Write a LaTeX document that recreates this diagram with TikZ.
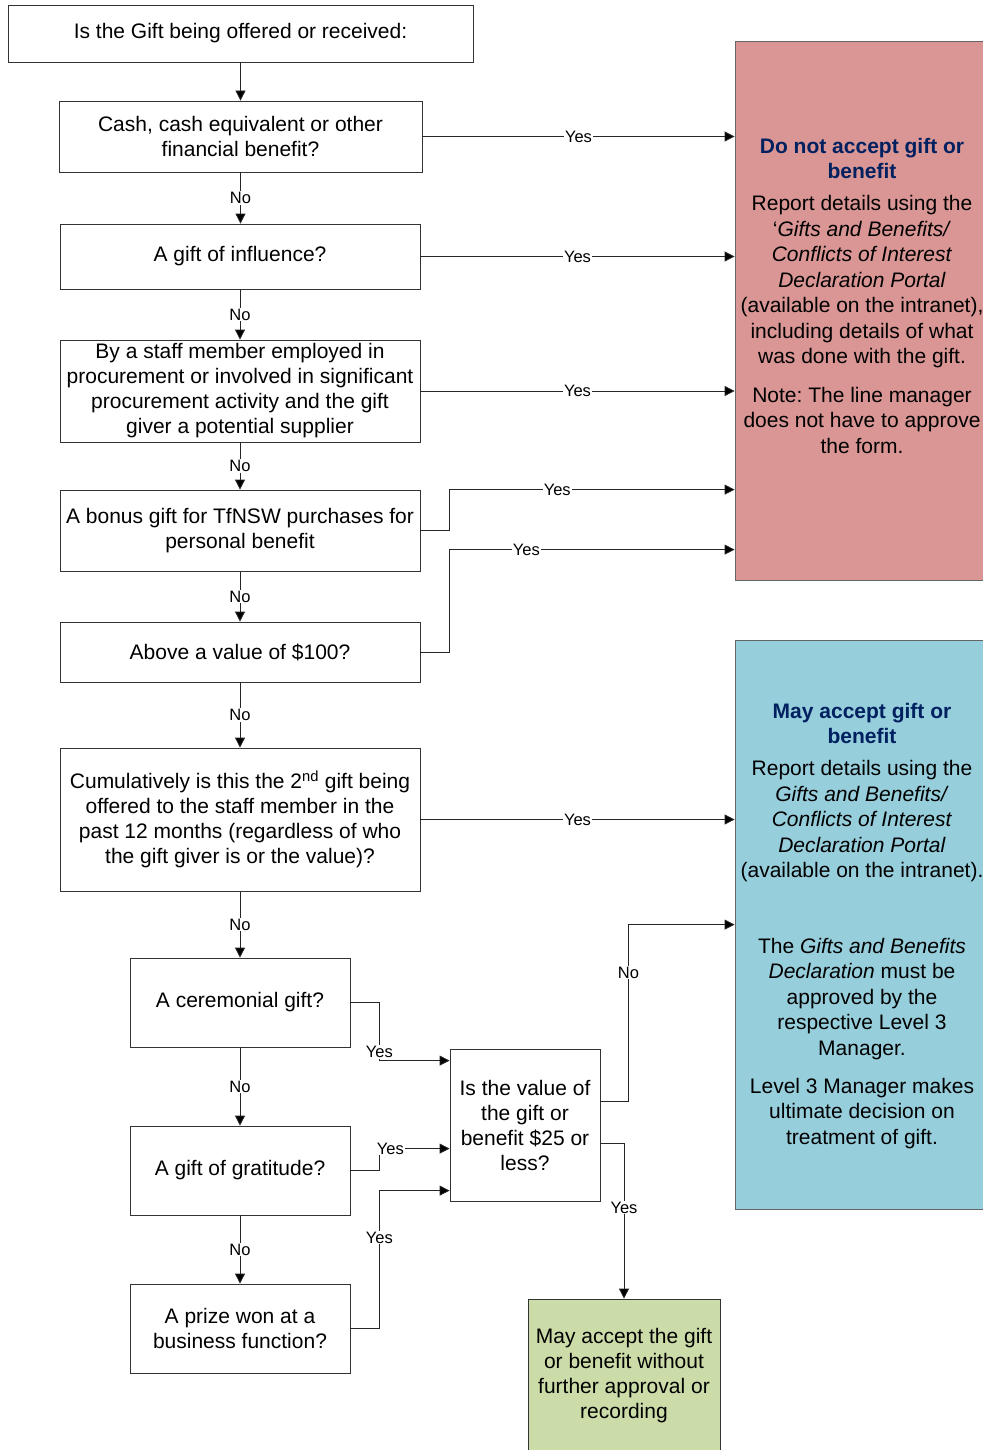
\documentclass[tikz,border=0pt]{standalone}
\usepackage{fontspec}
\setmainfont{Liberation Sans}
\usetikzlibrary{arrows.meta,calc}
\definecolor{redp}{RGB}{217,150,148}
\definecolor{bluep}{RGB}{150,206,220}
\definecolor{greenp}{RGB}{204,220,168}
\definecolor{navy}{RGB}{0,32,96}
\frenchspacing
\begin{document}
\begin{tikzpicture}[x=1pt,y=1pt,
 box/.style={draw=black!80,line width=0.8pt,rectangle,inner sep=0pt,align=center,font=\fontsize{21}{25}\selectfont},
 panel/.style={draw=black!60,line width=0.8pt,rectangle,inner sep=0pt},
 arr/.style={draw=black!85,line width=0.8pt,-{Triangle[length=10pt,width=10pt,fill=black]}},
 lbl/.style={fill=white,inner sep=1pt,font=\fontsize{16.5}{18}\selectfont},
 ptxt/.style={align=center,inner sep=0pt,font=\fontsize{21}{25.5}\selectfont},
 ptitle/.style={align=center,inner sep=0pt,text=navy,font=\fontsize{21}{25}\selectfont\bfseries}]
\useasboundingbox (0,0) rectangle (982,-1450);
% panels
\node[panel,fill=redp,minimum width=255pt,minimum height=539pt] (red) at (862.5,-310.5) {};
\node[panel,fill=bluep,minimum width=255pt,minimum height=569pt] (blue) at (862.5,-924.5) {};
\node[box,fill=greenp,minimum width=192pt,minimum height=153pt] (green) at (624,-1375.5) {May accept the gift\\or benefit without\\further approval or\\recording};
% red panel text
\node[ptitle] (rt1) at (862,-158.5) {Do not accept gift or\\benefit};
\node[ptxt] (rt2) at (862,-282) {Report details using the\\‘\textit{Gifts and Benefits/}\\\textit{Conflicts of Interest}\\\textit{Declaration Portal}\\(available on the intranet),\\including details of what\\was done with the gift.};
\node[ptxt] (rt3) at (862,-420) {Note: The line manager\\does not have to approve\\the form.};
% blue panel text
\node[ptitle] (bt1) at (862,-723.5) {May accept gift or\\benefit};
\node[ptxt] (bt2) at (862,-821.5) {Report details using the\\\textit{Gifts and Benefits/}\\\textit{Conflicts of Interest}\\\textit{Declaration Portal}\\(available on the intranet).};
\node[ptxt] (bt3) at (862,-999) {The \textit{Gifts and Benefits}\\\textit{Declaration} must be\\approved by the\\respective Level 3\\Manager.};
\node[ptxt] (bt4) at (862,-1113.5) {Level 3 Manager makes\\ultimate decision on\\treatment of gift.};
% question boxes
\node[box,minimum width=465pt,minimum height=57pt] (b0) at (240.5,-33.5) {Is the Gift being offered or received:};
\node[box,minimum width=363pt,minimum height=71pt] (b1) at (240.5,-136.5) {Cash, cash equivalent or other\\financial benefit?};
\node[box,minimum width=360pt,minimum height=65pt] (b2) at (240,-256.5) {A gift of influence?};
\node[box,minimum width=360pt,minimum height=102pt] (b3) at (240,-391) {By a staff member employed in\\procurement or involved in significant\\procurement activity and the gift\\giver a potential supplier};
\node[box,minimum width=360pt,minimum height=81pt] (b4) at (240,-530.5) {A bonus gift for TfNSW purchases for\\personal benefit};
\node[box,minimum width=360pt,minimum height=60pt] (b5) at (240,-652) {Above a value of \$100?};
\node[box,minimum width=360pt,minimum height=143pt] (b6) at (240,-819.5) {Cumulatively is this the 2\textsuperscript{nd} gift being\\offered to the staff member in the\\past 12 months (regardless of who\\the gift giver is or the value)?};
\node[box,minimum width=220pt,minimum height=89pt] (b7) at (240,-1002.5) {A ceremonial gift?};
\node[box,minimum width=220pt,minimum height=89pt] (b8) at (240,-1170.5) {A gift of gratitude?};
\node[box,minimum width=220pt,minimum height=89pt] (b9) at (240,-1328.5) {A prize won at a\\business function?};
\node[box,minimum width=150pt,minimum height=152pt] (b10) at (525,-1125) {Is the value of\\the gift or\\benefit \$25 or\\less?};
% vertical chain
\draw[arr] (b0.south) -- (b0.south |- b1.north);
\draw[arr] (b1.south) -- node[lbl]{No} (b1.south |- b2.north);
\draw[arr] (b2.south) -- node[lbl]{No} (b3.north);
\draw[arr] (b3.south) -- node[lbl]{No} (b4.north);
\draw[arr] (b4.south) -- node[lbl]{No} (b5.north);
\draw[arr] (b5.south) -- node[lbl]{No} (b6.north);
\draw[arr] (b6.south) -- node[lbl]{No} (b7.north);
\draw[arr] (b7.south) -- node[lbl]{No} (b8.north);
\draw[arr] (b8.south) -- node[lbl]{No} (b9.north);
% yes to red
\draw[arr] (b1.east) -- node[lbl]{Yes} (b1.east -| red.west);
\draw[arr] (b2.east) -- node[lbl]{Yes} (b2.east -| red.west);
\draw[arr] (b3.east) -- node[lbl]{Yes} (b3.east -| red.west);
\draw[arr] (b4.east) -- ++(29,0) |- node[lbl,pos=0.689]{Yes} (b4.north -| red.west);
\draw[arr] (b5.east) -- ++(29,0) |- node[lbl,pos=0.635]{Yes} ($(red.north west)+(0,-509)$);
\draw[arr] (b6.east) -- node[lbl]{Yes} (b6.east -| blue.west);
% to value box
\draw[arr] (b7.east) -- ++(29,0) |- node[lbl,pos=0.425]{Yes} ($(b10.north west)+(0,-12)$);
\draw[arr] (b8.east) -- ++(29,0) |- node[lbl,pos=0.578]{Yes} ($(b10.north west)+(0,-100)$);
\draw[arr] (b9.east) -- ++(29,0) |- node[lbl,pos=0.33]{Yes} ($(b10.north west)+(0,-142)$);
% from value box
\draw[arr] ($(b10.east)+(0,24)$) -- ++(28,0) |- node[lbl,pos=0.364]{No} ($(blue.north west)+(0,-285)$);
\draw[arr] ($(b10.east)+(0,-18)$) -| node[lbl,pos=0.708]{Yes} (green.north);
\end{tikzpicture}
\end{document}
